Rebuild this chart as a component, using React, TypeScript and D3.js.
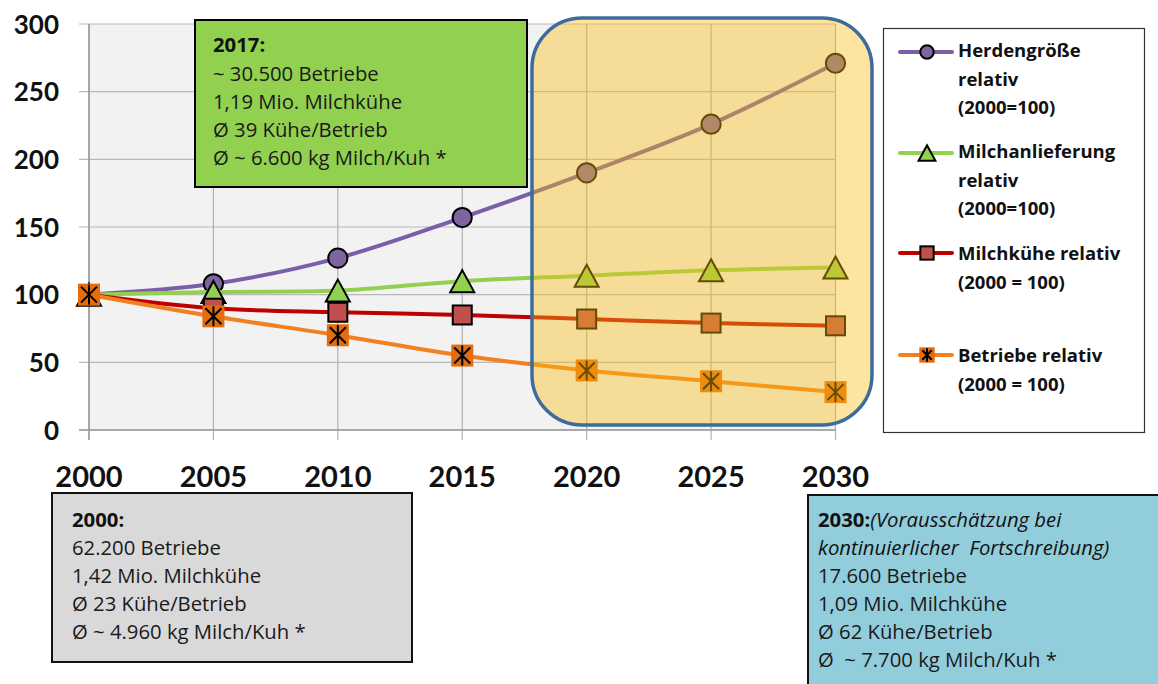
import React from "react";
import * as d3 from "d3";

// Years on the x axis and the four relative series (2000 = 100)
const years = [2000, 2005, 2010, 2015, 2020, 2025, 2030];
const herdSize = [100, 108, 127, 157, 190, 226, 271];
const milkDelivery = [100, 102, 103, 110, 114, 118, 120];
const dairyCows = [100, 90, 87, 85, 82, 79, 77];
const farms = [100, 84, 70, 55, 44, 36, 28];
const yTicks = [0, 50, 100, 150, 200, 250, 300];

const legendHerd = ["Herdengröße", "relativ", "(2000=100)"];
const legendMilk = ["Milchanlieferung", "relativ", "(2000=100)"];
const legendCows = ["Milchkühe relativ", "(2000 = 100)"];
const legendFarms = ["Betriebe relativ", "(2000 = 100)"];

const box2017 = ["~ 30.500 Betriebe", "1,19 Mio. Milchkühe", "Ø 39 Kühe/Betrieb", "Ø ~ 6.600 kg Milch/Kuh *"];
const box2000 = ["62.200 Betriebe", "1,42 Mio. Milchkühe", "Ø 23 Kühe/Betrieb", "Ø ~ 4.960 kg Milch/Kuh *"];
const box2030 = ["17.600 Betriebe", "1,09 Mio. Milchkühe", "Ø 62 Kühe/Betrieb", "Ø  ~ 7.700 kg Milch/Kuh *"];

type MarkerKind = "circle" | "triangle" | "square" | "star";

interface Series {
  values: number[];
  line: string;
  fill: string;
  marker: MarkerKind;
  legend: string[];
}

const series: Series[] = [
  { values: herdSize, line: "#7a5ea6", fill: "#8064a2", marker: "circle", legend: legendHerd },
  { values: milkDelivery, line: "#92d050", fill: "#92d050", marker: "triangle", legend: legendMilk },
  { values: dairyCows, line: "#c00000", fill: "#c0504d", marker: "square", legend: legendCows },
  { values: farms, line: "#f08020", fill: "#e46c0a", marker: "star", legend: legendFarms },
];

const FONT = "Lato, 'Open Sans', sans-serif";
const TEXT_FONT = "'Open Sans', Lato, sans-serif";
const BOX_SIZE = 20.3;

function Marker({ kind, cx, cy, fill, s }: { kind: MarkerKind; cx: number; cy: number; fill: string; s: number }) {
  if (kind === "circle") {
    return <circle cx={cx} cy={cy} r={s * 0.48} fill={fill} stroke="#000" strokeWidth={2} />;
  }
  if (kind === "triangle") {
    const w = s * 1.2;
    const h = s * 1.1;
    const pts = [
      [cx, cy - h / 2],
      [cx + w / 2, cy + h / 2],
      [cx - w / 2, cy + h / 2],
    ]
      .map((p) => p.join(","))
      .join(" ");
    return <polygon points={pts} fill={fill} stroke="#000" strokeWidth={2} strokeLinejoin="miter" />;
  }
  if (kind === "square") {
    const a = s * 0.95;
    return <rect x={cx - a / 2} y={cy - a / 2} width={a} height={a} fill={fill} stroke="#000" strokeWidth={2} />;
  }
  const a = s * 1.1;
  const k = a / 2 - 3;
  return (
    <g>
      <rect x={cx - a / 2} y={cy - a / 2} width={a} height={a} fill={fill} />
      <path
        d={`M${cx - k},${cy - k}L${cx + k},${cy + k}M${cx + k},${cy - k}L${cx - k},${cy + k}M${cx},${cy - a / 2 + 1}L${cx},${cy + a / 2 - 1}`}
        stroke="#000"
        strokeWidth={2}
        fill="none"
      />
    </g>
  );
}

export default function App() {
  const x = d3.scaleLinear().domain([2000, 2030]).range([89, 835.5]);
  const y = d3.scaleLinear().domain([0, 300]).range([430, 24]);
  const line = d3
    .line<number>()
    .x((_, i) => x(years[i]))
    .y((d) => y(d))
    .curve(d3.curveCatmullRom.alpha(0.5));

  const legendY = [52, 153, 253, 355];
  const legendFirstBaseline = [57, 158, 260, 362];

  return (
    <svg
      width={1158}
      height={684}
      style={{ position: "absolute", left: 0, top: 0, display: "block", background: "#fff" }}
      fontFamily={FONT}
    >
      {/* plot background */}
      <rect x={x(2000)} y={y(300)} width={x(2030) - x(2000)} height={y(0) - y(300)} fill="#f2f2f2" />

      {/* grid */}
      {yTicks.map((t) => (
        <line key={"hg" + t} x1={x(2000) - 10} x2={x(2030)} y1={y(t)} y2={y(t)} stroke="#b8b8b8" strokeWidth={1.2} />
      ))}
      {years.map((yr) => (
        <line key={"vg" + yr} x1={x(yr)} x2={x(yr)} y1={y(300)} y2={y(0) + 10} stroke="#b0b0b0" strokeWidth={1.2} />
      ))}
      <line x1={x(2000)} x2={x(2000)} y1={y(300)} y2={y(0) + 10} stroke="#9a9a9a" strokeWidth={1.5} />
      <line x1={x(2000) - 10} x2={x(2030)} y1={y(0)} y2={y(0)} stroke="#9a9a9a" strokeWidth={1.5} />

      {/* y labels */}
      {yTicks.map((t) => (
        <text key={"yl" + t} x={59} y={y(t) + 9.5} textAnchor="end" fontSize={26} fontWeight={700} fill="#111">
          {t}
        </text>
      ))}
      {/* x labels */}
      {years.map((yr) => (
        <text key={"xl" + yr} x={x(yr)} y={487} textAnchor="middle" fontSize={29} fontWeight={700} fill="#111">
          {yr}
        </text>
      ))}

      {/* series */}
      {series.map((s, si) => (
        <g key={"s" + si}>
          <path d={line(s.values) || ""} fill="none" stroke={s.line} strokeWidth={4} />
          {s.values.map((v, i) => (
            <Marker key={i} kind={s.marker} cx={x(years[i])} cy={y(v)} fill={s.fill} s={20} />
          ))}
        </g>
      ))}

      {/* forecast highlight */}
      <rect
        x={532}
        y={18}
        width={340}
        height={407}
        rx={50}
        ry={50}
        fill="rgba(250,190,17,0.4)"
        stroke="#3d6b9c"
        strokeWidth={3.5}
      />

      <g fontFamily={TEXT_FONT}>
        {/* 2017 box */}
        <rect x={195} y={20} width={332} height={167} fill="#92d050" stroke="#000" strokeWidth={2} />
        <text x={213} y={52} fontSize={BOX_SIZE} fontWeight={700} fill="#111">2017:</text>
        {box2017.map((t, i) => (
          <text key={"b17" + i} x={213} y={81 + i * 28} fontSize={BOX_SIZE} fill="#1a1a1a">
            {t}
          </text>
        ))}

        {/* legend */}
        <rect x={883.5} y={28.5} width={261} height={404} fill="#fff" stroke="#333" strokeWidth={1.2} />
        {series.map((s, si) => (
          <g key={"lg" + si}>
            <line x1={900} x2={952} y1={legendY[si]} y2={legendY[si]} stroke={s.line} strokeWidth={4} strokeLinecap="round" />
            <Marker kind={s.marker} cx={927} cy={legendY[si]} fill={s.fill} s={14} />
            {s.legend.map((t, i) => (
              <text key={i} x={958} y={legendFirstBaseline[si] + i * 28.5} fontSize={18.5} fontWeight={700} fill="#111">
                {t}
              </text>
            ))}
          </g>
        ))}

        {/* 2000 box */}
        <rect x={52} y={493} width={360} height={169} fill="#d9d9d9" stroke="#111" strokeWidth={2} />
        <text x={72} y={527} fontSize={BOX_SIZE} fontWeight={700} fill="#111">2000:</text>
        {box2000.map((t, i) => (
          <text key={"b00" + i} x={72} y={555 + i * 28} fontSize={BOX_SIZE} fill="#1a1a1a">
            {t}
          </text>
        ))}

        {/* 2030 box */}
        <rect x={808} y={495} width={360} height={200} fill="#92cddc" stroke="#111" strokeWidth={2} />
        <text x={818} y={527} fontSize={BOX_SIZE} fill="#111">
          <tspan fontWeight={700}>2030:</tspan>
          <tspan fontStyle="italic">(Vorausschätzung bei</tspan>
        </text>
        <text x={818} y={555} fontSize={BOX_SIZE} fontStyle="italic" fill="#111" style={{ whiteSpace: "pre" }}>
          {"kontinuierlicher  Fortschreibung)"}
        </text>
        {box2030.map((t, i) => (
          <text key={"b30" + i} x={818} y={583 + i * 28} fontSize={BOX_SIZE} fill="#1a1a1a" style={{ whiteSpace: "pre" }}>
            {t}
          </text>
        ))}
      </g>
    </svg>
  );
}
